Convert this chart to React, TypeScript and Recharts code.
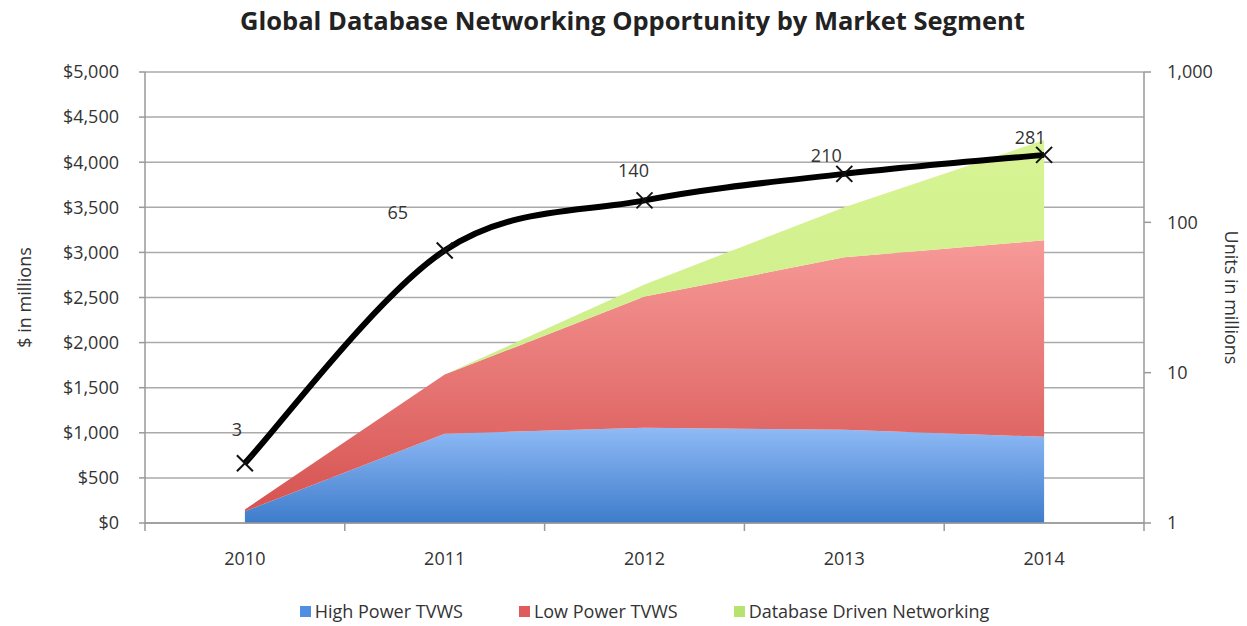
import React from "react"
import { ComposedChart, Area, Line, XAxis, YAxis, CartesianGrid, Legend } from "recharts"

const years = [2010, 2011, 2012, 2013, 2014]
const highPower = [130, 990, 1055, 1035, 955]
const lowPower = [20, 655, 1455, 1910, 2180]
const dbNetworking = [0, 0, 135, 555, 1110]
const units = [2.5, 65, 140, 210, 281]

const dollarTicks = [0, 500, 1000, 1500, 2000, 2500, 3000, 3500, 4000, 4500, 5000]
const unitTicks = [1, 10, 100, 1000]
const xTicks = [2009.5, 2010, 2010.5, 2011, 2011.5, 2012, 2012.5, 2013, 2013.5, 2014, 2014.5]

// where Excel put each data label, relative to its marker
const labelOffsets = [
  [-8, -34],
  [-47, -38],
  [-11, -30],
  [-18, -19],
  [-14, -18],
]

const data = years.map((year, i) => ({
  year,
  high: highPower[i],
  low: lowPower[i],
  db: dbNetworking[i],
  units: units[i],
}))

const FONT = "'Open Sans', 'DejaVu Sans', sans-serif"
const TEXT = "#333"
const FS = 18

// catmull-rom style smoothing, like excel's "smoothed line"
function excelSmooth(context: any) {
  let pts: number[][] = []
  return {
    areaStart() {},
    areaEnd() {},
    lineStart() {
      pts = []
    },
    lineEnd() {
      if (!pts.length) return
      context.moveTo(pts[0][0], pts[0][1])
      for (let i = 0; i < pts.length - 1; i++) {
        const p0 = pts[Math.max(i - 1, 0)]
        const p1 = pts[i]
        const p2 = pts[i + 1]
        const p3 = pts[Math.min(i + 2, pts.length - 1)]
        context.bezierCurveTo(
          p1[0] + (p2[0] - p0[0]) / 6,
          p1[1] + (p2[1] - p0[1]) / 6,
          p2[0] - (p3[0] - p1[0]) / 6,
          p2[1] - (p3[1] - p1[1]) / 6,
          p2[0],
          p2[1]
        )
      }
    },
    point(x: number, y: number) {
      pts.push([+x, +y])
    },
  }
}

const CrossDot = (props: any) => {
  const { cx, cy } = props
  if (cx == null || cy == null) return null
  const s = 8
  return (
    <g stroke="#111" strokeWidth={2}>
      <line x1={cx - s} y1={cy - s} x2={cx + s} y2={cy + s} />
      <line x1={cx - s} y1={cy + s} x2={cx + s} y2={cy - s} />
    </g>
  )
}

const UnitLabel = (props: any) => {
  const { x, y, value, index } = props
  const [dx, dy] = labelOffsets[index] || [0, -20]
  return (
    <text x={x + dx} y={y + dy} textAnchor="middle" dominantBaseline="central" fontSize={FS} fill={TEXT} fontFamily={FONT}>
      {Math.round(value)}
    </text>
  )
}

const YearTick = (props: any) => {
  const { x, y, payload } = props
  const v = payload.value
  if (v % 1 !== 0) {
    return <line x1={x} y1={y} x2={x} y2={y + 8} stroke="#999" strokeWidth={1.5} />
  }
  return (
    <text x={x} y={y + 35} textAnchor="middle" dominantBaseline="central" fontSize={FS} fill={TEXT} fontFamily={FONT}>
      {v}
    </text>
  )
}

const legendItems = [
  { name: "High Power TVWS", color: "#4f8ee0" },
  { name: "Low Power TVWS", color: "#e05c5c" },
  { name: "Database Driven Networking", color: "#b5e36e" },
]

const LegendContent = () => (
  <div style={{ display: "flex", justifyContent: "center", gap: 56, fontFamily: FONT, fontSize: FS, color: TEXT, paddingLeft: 42 }}>
    {legendItems.map((it) => (
      <div key={it.name} style={{ display: "flex", alignItems: "center" }}>
        <span style={{ width: 11, height: 11, background: it.color, marginRight: 4, display: "inline-block" }} />
        {it.name}
      </div>
    ))}
  </div>
)

export default function App() {
  return (
    <div style={{ position: "absolute", left: 0, top: 0, width: 1247, height: 626, background: "#fff" }}>
      <div
        style={{
          position: "absolute",
          top: 3,
          left: 0,
          width: 1247,
          textAlign: "center",
          fontFamily: FONT,
          fontWeight: 700,
          fontSize: 25.5,
          color: "#222",
          paddingLeft: 18,
          boxSizing: "border-box",
        }}
      >
        Global Database Networking Opportunity by Market Segment
      </div>
      <ComposedChart width={1247} height={626} data={data} margin={{ top: 72, right: 8, left: 60, bottom: 29 }}>
        <defs>
          <linearGradient id="gBlue" x1="0" y1="0" x2="0" y2="1">
            <stop offset="0%" stopColor="#8fbaf6" />
            <stop offset="100%" stopColor="#3e7ccb" />
          </linearGradient>
          <linearGradient id="gRed" x1="0" y1="0" x2="0" y2="1">
            <stop offset="0%" stopColor="#f79a98" />
            <stop offset="100%" stopColor="#d65351" />
          </linearGradient>
          <linearGradient id="gGreen" x1="0" y1="0" x2="0" y2="1">
            <stop offset="0%" stopColor="#d8f494" />
            <stop offset="100%" stopColor="#c7ea85" />
          </linearGradient>
        </defs>
        <CartesianGrid vertical={false} stroke="#aaa" strokeWidth={1.5} yAxisId="left" />
        <XAxis
          dataKey="year"
          type="number"
          domain={[2009.5, 2014.5]}
          ticks={xTicks}
          interval={0}
          tick={<YearTick />}
          tickLine={false}
          tickSize={0}
          tickMargin={0}
          height={50}
          stroke="#999"
          strokeWidth={1.5}
        />
        <YAxis
          yAxisId="left"
          domain={[0, 5000]}
          ticks={dollarTicks}
          interval={0}
          width={85}
          tickFormatter={(v: number) => "$" + v.toLocaleString("en-US")}
          tick={{ fontSize: FS, fill: TEXT, fontFamily: FONT }}
          tickSize={6}
          tickMargin={20}
          stroke="#999"
          strokeWidth={1.5}
          label={{ value: "$ in millions", angle: -90, position: "insideLeft", dx: -40, style: { textAnchor: "middle", fontSize: FS, fill: TEXT, fontFamily: FONT } }}
        />
        <YAxis
          yAxisId="right"
          orientation="right"
          scale="log"
          domain={[1, 1000]}
          ticks={unitTicks}
          interval={0}
          allowDataOverflow
          width={95}
          tickFormatter={(v: number) => v.toLocaleString("en-US")}
          tick={{ fontSize: FS, fill: TEXT, fontFamily: FONT }}
          tickSize={7}
          tickMargin={16}
          stroke="#999"
          strokeWidth={1.5}
          label={{ value: "Units in millions", angle: 90, position: "insideRight", dx: -3, style: { textAnchor: "middle", fontSize: FS, fill: TEXT, fontFamily: FONT } }}
        />
        <Area yAxisId="left" type="linear" dataKey="high" stackId="a" stroke="none" fill="url(#gBlue)" fillOpacity={1} isAnimationActive={false} />
        <Area yAxisId="left" type="linear" dataKey="low" stackId="a" stroke="none" fill="url(#gRed)" fillOpacity={1} isAnimationActive={false} />
        <Area yAxisId="left" type="linear" dataKey="db" stackId="a" stroke="none" fill="url(#gGreen)" fillOpacity={1} isAnimationActive={false} />
        <Line
          yAxisId="right"
          type={excelSmooth as any}
          dataKey="units"
          stroke="#000"
          strokeWidth={6}
          dot={<CrossDot />}
          activeDot={false}
          label={<UnitLabel />}
          isAnimationActive={false}
        />
        <Legend verticalAlign="bottom" content={<LegendContent />} wrapperStyle={{ bottom: 3, left: 0, width: 1247 }} />
      </ComposedChart>
    </div>
  )
}
